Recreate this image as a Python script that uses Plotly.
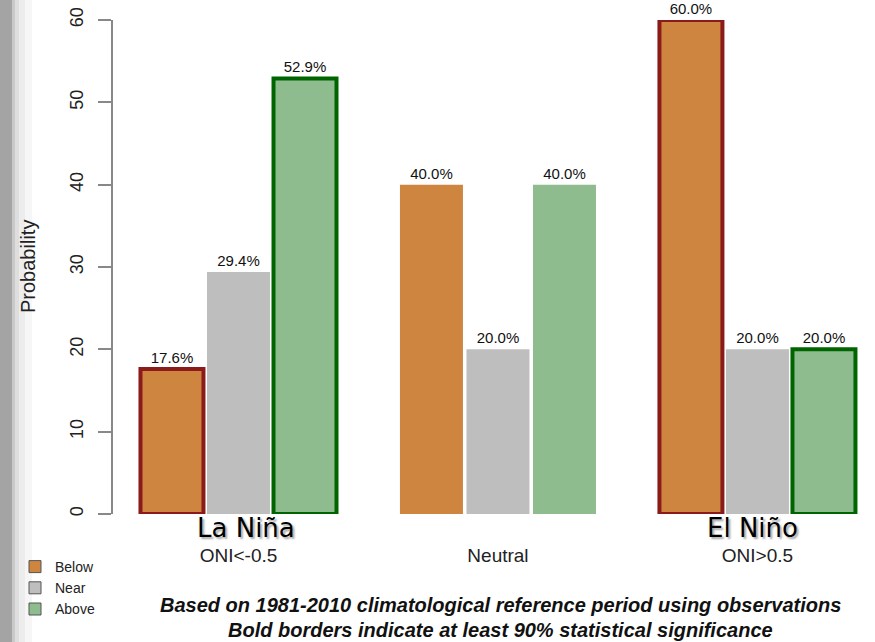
import plotly.graph_objects as go

groups = ["La Niña", "Neutral", "El Niño"]
oni_labels = ["ONI&lt;-0.5", "Neutral", "ONI&gt;0.5"]
below = [17.6, 40.0, 60.0]
near = [29.4, 20.0, 20.0]
above = [52.9, 40.0, 20.0]
below_sig = [True, False, True]
near_sig = [False, False, False]
above_sig = [True, False, True]
y_ticks = [0, 10, 20, 30, 40, 50, 60]

FONT = "Liberation Sans, Arial, sans-serif"
W, H = 875, 642
L, R, T, B = 113, 0, 20, 128


def px_x(p):
    return (p - L) / (W - L - R)


def px_y(p):
    return (H - B - p) / (H - T - B)


series = [
    ("Below", below, below_sig, "#CD853F", "#8B1A1A"),
    ("Near", near, near_sig, "#BEBEBE", "#BEBEBE"),
    ("Above", above, above_sig, "#8FBC8F", "#006400"),
]

fig = go.Figure()
for name, vals, sig, fill, edge in series:
    fig.add_trace(go.Bar(
        x=groups, y=vals, name=name, showlegend=False,
        marker=dict(color=fill,
                    line=dict(color=[edge if s else fill for s in sig],
                              width=[4 if s else 0 for s in sig])),
        text=[f"{v:.1f}%" for v in vals],
        textposition="outside", constraintext="none", cliponaxis=False,
        textfont=dict(family=FONT, size=15, color="#111"),
    ))

# legend entries
for name, vals, sig, fill, edge in series:
    fig.add_trace(go.Scatter(
        x=[None], y=[None], mode="markers", name=name,
        marker=dict(symbol="square", size=12, color=fill, line=dict(color="#555", width=1)),
    ))

# grey page edge on the left
bands = [(0, 12, "#a4a4a4"), (12, 15, "#c8c8c8"), (15, 19, "#dedede"), (19, 25, "#ececec"), (25, 32, "#f6f6f6")]
for x0, x1, c in bands:
    fig.add_shape(type="rect", xref="paper", yref="paper", x0=px_x(x0), x1=px_x(x1),
                  y0=px_y(H + 5), y1=px_y(-5), fillcolor=c, line=dict(width=0), layer="below")

# La Niña / El Niño overlays with a soft shadow
for g, shift in [("La Niña", 8), ("El Niño", -5)]:
    fig.add_annotation(x=g, xref="x", y=px_y(528), yref="paper", text=g, showarrow=False,
                       xshift=shift, yanchor="middle",
                       font=dict(family="DejaVu Sans, sans-serif", size=26, color="#000",
                                 shadow="2px 2px 2px rgba(0,0,0,0.35)"))

fig.add_annotation(x=px_x(28), xref="paper", y=px_y(267), yref="paper", text="Probability",
                   xanchor="center", yanchor="middle",
                   textangle=-90, showarrow=False, font=dict(family=FONT, size=20, color="#222"))

notes = ["Based on 1981-2010 climatological reference period using observations",
         "Bold borders indicate at least 90% statistical significance"]
for note, yy in zip(notes, [605, 630]):
    fig.add_annotation(x=px_x(500), xref="paper", y=px_y(yy), yref="paper",
                       xanchor="center", yanchor="middle",
                       text=f"<b><i>{note}</i></b>", showarrow=False,
                       font=dict(family=FONT, size=20, color="#111"))

fig.update_layout(
    width=W, height=H, margin=dict(l=L, r=R, t=T, b=B),
    paper_bgcolor="white", plot_bgcolor="white",
    barmode="group", bargap=0.231, bargroupgap=0.053,
    font=dict(family=FONT, color="#222"),
    legend=dict(x=px_x(15), y=px_y(551), xanchor="left", yanchor="top",
                font=dict(family=FONT, size=14, color="#222"), tracegroupgap=0,
                bgcolor="rgba(0,0,0,0)"),
)
fig.update_xaxes(range=[-0.4836, 2.453], tickvals=groups, ticktext=oni_labels,
                 showline=False, showgrid=False, zeroline=False, ticks="",
                 tickfont=dict(family=FONT, size=19, color="#222"), ticklabelstandoff=28)
fig.update_yaxes(range=[0, 60], tickvals=y_ticks, showgrid=False, zeroline=False,
                 showline=True, linecolor="#888", linewidth=1.5,
                 ticks="outside", ticklen=13, tickcolor="#888", tickwidth=1.5,
                 tickangle=-90, ticklabelstandoff=8,
                 tickfont=dict(family=FONT, size=18, color="#222"))

fig.write_html("out.html", config={"displayModeBar": False},
               post_script="document.body.style.margin='0';")
